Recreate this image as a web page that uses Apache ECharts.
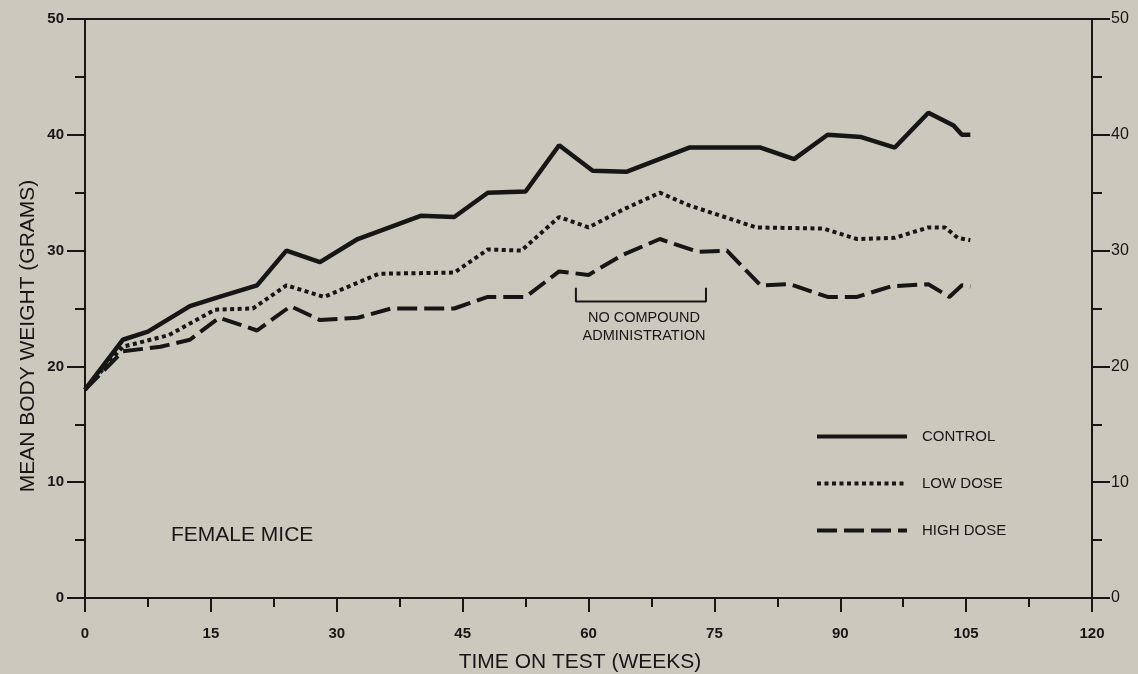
<!DOCTYPE html>
<html>
<head>
<meta charset="utf-8">
<script src="https://cdn.jsdelivr.net/npm/echarts@6/dist/echarts.min.js"></script>
<style>
  html, body { margin: 0; padding: 0; background: #cbc9bd; }
  #chart { width: 1138px; height: 674px; }
</style>
</head>
<body>
<div id="chart"></div>
<script>
// Mean body weight of female mice over time on test
const controlWeeks = [0, 4.5, 7.5, 12.5, 16, 20.5, 24, 28, 32.5, 40, 44, 48, 52.5, 56.5, 60.5, 64.5, 72, 76, 80.5, 84.5, 88.5, 92.5, 96.5, 100.5, 103.5, 104.5, 105.5];
const controlWeight = [18.0, 22.3, 23.0, 25.2, 26.0, 27.0, 30.0, 29.0, 31.0, 33.0, 32.9, 35.0, 35.1, 39.1, 36.9, 36.8, 38.9, 38.9, 38.9, 37.9, 40.0, 39.8, 38.9, 41.9, 40.8, 40.0, 40.0];

const lowWeeks = [0, 4.5, 10, 15.5, 20, 24, 28.5, 35, 44, 48, 52, 56.5, 60, 64, 68.5, 72, 80, 88, 92, 96.5, 100.5, 102.5, 104, 105.5];
const lowWeight = [18.0, 21.7, 22.7, 24.9, 25.0, 27.0, 26.0, 28.0, 28.1, 30.1, 30.0, 32.9, 32.0, 33.5, 35.0, 33.9, 32.0, 31.9, 31.0, 31.1, 32.0, 32.0, 31.1, 30.9];

const highWeeks = [0, 4.5, 9, 12.5, 16, 20.5, 24.5, 28, 32.5, 36.5, 44, 48, 52.5, 56.5, 60, 64, 68.5, 73, 76.5, 80.5, 84, 88.5, 92, 96, 100.5, 103, 104.5, 105.5];
const highWeight = [18.0, 21.3, 21.7, 22.3, 24.2, 23.1, 25.2, 24.0, 24.2, 25.0, 25.0, 26.0, 26.0, 28.2, 27.9, 29.6, 31.0, 29.9, 30.0, 27.0, 27.1, 26.0, 26.0, 26.9, 27.1, 26.0, 27.0, 26.9];

// bracket marking the weeks without compound administration
const pauseWeeks = [58.5, 58.5, 74, 74];
const pauseLevel = [26.8, 25.6, 25.6, 26.8];

const seriesNames = ['CONTROL', 'LOW DOSE', 'HIGH DOSE'];
const xTicks = [0, 15, 30, 45, 60, 75, 90, 105, 120];

const zip = (xs, ys) => xs.map((x, i) => [x, ys[i]]);
const ink = '#161616';
const font = 'Liberation Sans, Arial, Helvetica, sans-serif';

const chart = echarts.init(document.getElementById('chart'));

function yAxis(position, labelSize, labelWeight, labelMargin) {
  return {
    type: 'value', min: 0, max: 50, interval: 10, position: position,
    axisLine: { show: true, onZero: false, lineStyle: { color: ink, width: 2 } },
    axisTick: { show: true, length: 18, lineStyle: { color: ink, width: 2 } },
    minorTick: { show: true, splitNumber: 2, length: 10, lineStyle: { color: ink, width: 2 } },
    axisLabel: { color: ink, fontSize: labelSize, fontWeight: labelWeight, fontFamily: font, margin: labelMargin },
    splitLine: { show: false }
  };
}

chart.setOption({
  backgroundColor: '#cbc9bd',
  animation: false,
  grid: { left: 85, right: 46, top: 19, bottom: 76 },
  legend: {
    data: seriesNames,
    orient: 'vertical',
    left: 810, top: 424,
    itemWidth: 90, itemHeight: 14, itemGap: 32,
    itemStyle: { color: 'transparent', borderWidth: 0, opacity: 0 },
    lineStyle: { width: 4 },
    textStyle: { color: ink, fontSize: 15, fontFamily: font, padding: [0, 0, 0, 10] },
    selectedMode: false
  },
  xAxis: [{
    type: 'value', min: 0, max: 120, interval: 15,
    axisLine: { show: true, onZero: false, lineStyle: { color: ink, width: 2 } },
    axisTick: { show: true, length: 14, lineStyle: { color: ink, width: 2 } },
    minorTick: { show: true, splitNumber: 2, length: 9, lineStyle: { color: ink, width: 2 } },
    axisLabel: {
      color: ink, fontSize: 15, fontWeight: 'bold', fontFamily: font, margin: 28,
      customValues: xTicks
    },
    splitLine: { show: false }
  }, {
    type: 'value', min: 0, max: 120, position: 'top',
    axisLine: { show: true, onZero: false, lineStyle: { color: ink, width: 2 } },
    axisTick: { show: false }, axisLabel: { show: false }, splitLine: { show: false }
  }],
  yAxis: [yAxis('left', 15, 'bold', 21), yAxis('right', 16, 'normal', 19)],
  graphic: [
    { type: 'text', x: 28, y: 336, rotation: Math.PI / 2,
      style: { text: 'MEAN BODY WEIGHT (GRAMS)', fill: ink, fontSize: 21, fontFamily: font,
               align: 'center', verticalAlign: 'middle' } },
    { type: 'text', x: 580, y: 662,
      style: { text: 'TIME ON TEST (WEEKS)', fill: ink, fontSize: 21, fontFamily: font,
               align: 'center', verticalAlign: 'middle' } },
    { type: 'text', x: 171, y: 535,
      style: { text: 'FEMALE MICE', fill: ink, fontSize: 21, fontFamily: font,
               align: 'left', verticalAlign: 'middle' } },
    { type: 'text', x: 644, y: 327,
      style: { text: 'NO COMPOUND\nADMINISTRATION', fill: ink, fontSize: 14.5, fontFamily: font,
               align: 'center', verticalAlign: 'middle', lineHeight: 18 } }
  ],
  series: [{
    name: 'CONTROL', type: 'line', data: zip(controlWeeks, controlWeight),
    symbol: 'none', color: ink,
    lineStyle: { color: ink, width: 4.5, type: 'solid' }
  }, {
    name: 'LOW DOSE', type: 'line', data: zip(lowWeeks, lowWeight),
    symbol: 'none', color: ink,
    lineStyle: { color: ink, width: 4, type: [4, 3.5] }
  }, {
    name: 'HIGH DOSE', type: 'line', data: zip(highWeeks, highWeight),
    symbol: 'none', color: ink,
    lineStyle: { color: ink, width: 4, type: [20, 7] }
  }, {
    name: 'pause', type: 'line', data: zip(pauseWeeks, pauseLevel),
    symbol: 'none', silent: true, color: ink,
    lineStyle: { color: ink, width: 2 }
  }]
});
</script>
</body>
</html>
